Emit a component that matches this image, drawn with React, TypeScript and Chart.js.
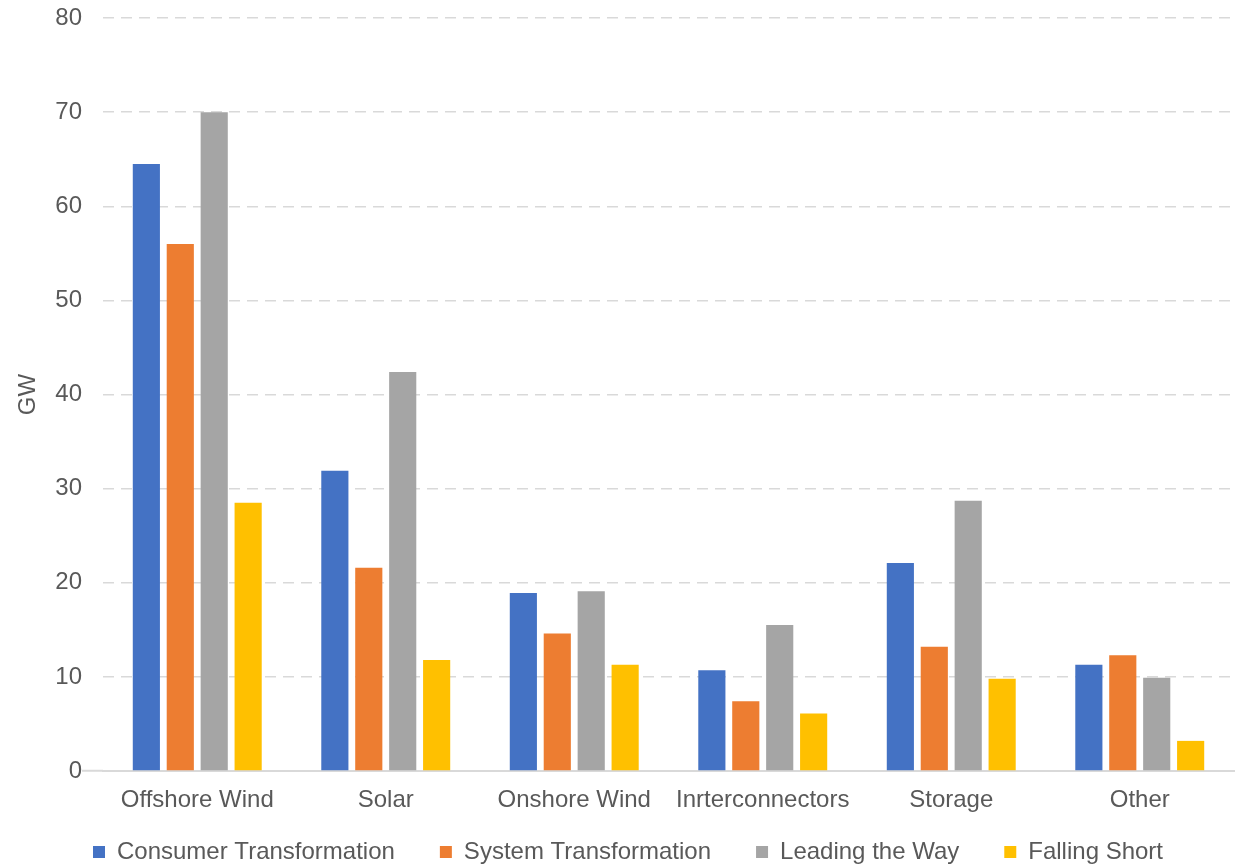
import React, { useEffect, useRef } from "react";
import { Chart, registerables } from "chart.js";

Chart.register(...registerables);

const categories = ["Offshore Wind", "Solar", "Onshore Wind", "Inrterconnectors", "Storage", "Other"];
const consumerTransformation = [64.5, 31.9, 18.9, 10.7, 22.1, 11.3];
const systemTransformation = [56.0, 21.6, 14.6, 7.4, 13.2, 12.3];
const leadingTheWay = [70.0, 42.4, 19.1, 15.5, 28.7, 9.9];
const fallingShort = [28.5, 11.8, 11.3, 6.1, 9.8, 3.2];
const seriesNames = ["Consumer Transformation", "System Transformation", "Leading the Way", "Falling Short"];
const seriesColors = ["#4472C4", "#ED7D31", "#A5A5A5", "#FFC000"];
const yTicks = [0, 10, 20, 30, 40, 50, 60, 70, 80];

const FONT = "'Liberation Sans', Arial, sans-serif";
const TEXT = "#595959";
const GRID = "#d9d9d9";
const LEGEND_PAD = 45;

const legendFitPlugin = {
  id: "legendFit",
  beforeLayout(chart: any) {
    const lg = chart.legend;
    if (lg && !lg._patched) {
      const orig = lg.fit;
      lg.fit = function (this: any) {
        orig.call(this);
        this.height = 46;
      };
      lg._patched = true;
    }
  },
  afterLayout(chart: any) {
    const lg = chart.legend;
    if (lg) {
      lg.left += 11;
      lg.right += 11;
      lg.top -= 24;
    }
  },
};

export default function App() {
  const ref = useRef<HTMLCanvasElement | null>(null);
  useEffect(() => {
    if (!ref.current) return;
    const values = [consumerTransformation, systemTransformation, leadingTheWay, fallingShort];
    const chart = new Chart(ref.current, {
      type: "bar",
      data: {
        labels: categories,
        datasets: seriesNames.map((name, i) => ({
          label: name,
          data: values[i],
          backgroundColor: seriesColors[i],
          borderWidth: 0,
          categoryPercentage: 0.72,
          barPercentage: 0.8,
        })),
      },
      plugins: [legendFitPlugin],
      options: {
        animation: false,
        responsive: true,
        maintainAspectRatio: false,
        layout: { padding: { left: 0, right: 4, top: 18, bottom: 0 } },
        plugins: {
          tooltip: { enabled: false },
          legend: {
            position: "bottom",
            labels: {
              font: { family: FONT, size: 24 },
              color: TEXT,
              boxWidth: 12,
              boxHeight: 12,
              padding: LEGEND_PAD,
            },
          },
        },
        scales: {
          x: {
            grid: { display: false, drawTicks: false },
            border: { color: GRID, width: 2 },
            ticks: { font: { family: FONT, size: 24 }, color: TEXT, padding: 15 },
            afterFit: (s: any) => {
              s.height = 48;
            },
          },
          y: {
            min: 0,
            max: 80,
            afterBuildTicks: (s: any) => {
              s.ticks = yTicks.map((v) => ({ value: v }));
            },
            grid: {
              color: (ctx: any) => (ctx.tick && ctx.tick.value === 0 ? "rgba(0,0,0,0)" : GRID),
              tickColor: (ctx: any) => (ctx.tick && ctx.tick.value === 0 ? GRID : "rgba(0,0,0,0)"),
              lineWidth: 1.5,
              tickWidth: 2,
              drawTicks: true,
              tickLength: 21,
            },
            border: { display: false, dash: [11, 7] },
            ticks: { font: { family: FONT, size: 24 }, color: TEXT, padding: 0 },
            title: {
              display: true,
              text: "GW",
              font: { family: FONT, size: 24 },
              color: TEXT,
              padding: { top: 14, bottom: 0 },
            },
            afterFit: (s: any) => {
              s.width = 103;
            },
          },
        },
      },
    });
    return () => chart.destroy();
  }, []);
  return (
    <div style={{ position: "fixed", left: 0, top: 0, width: 1238, height: 865, background: "#fff" }}>
      <canvas ref={ref} />
    </div>
  );
}
